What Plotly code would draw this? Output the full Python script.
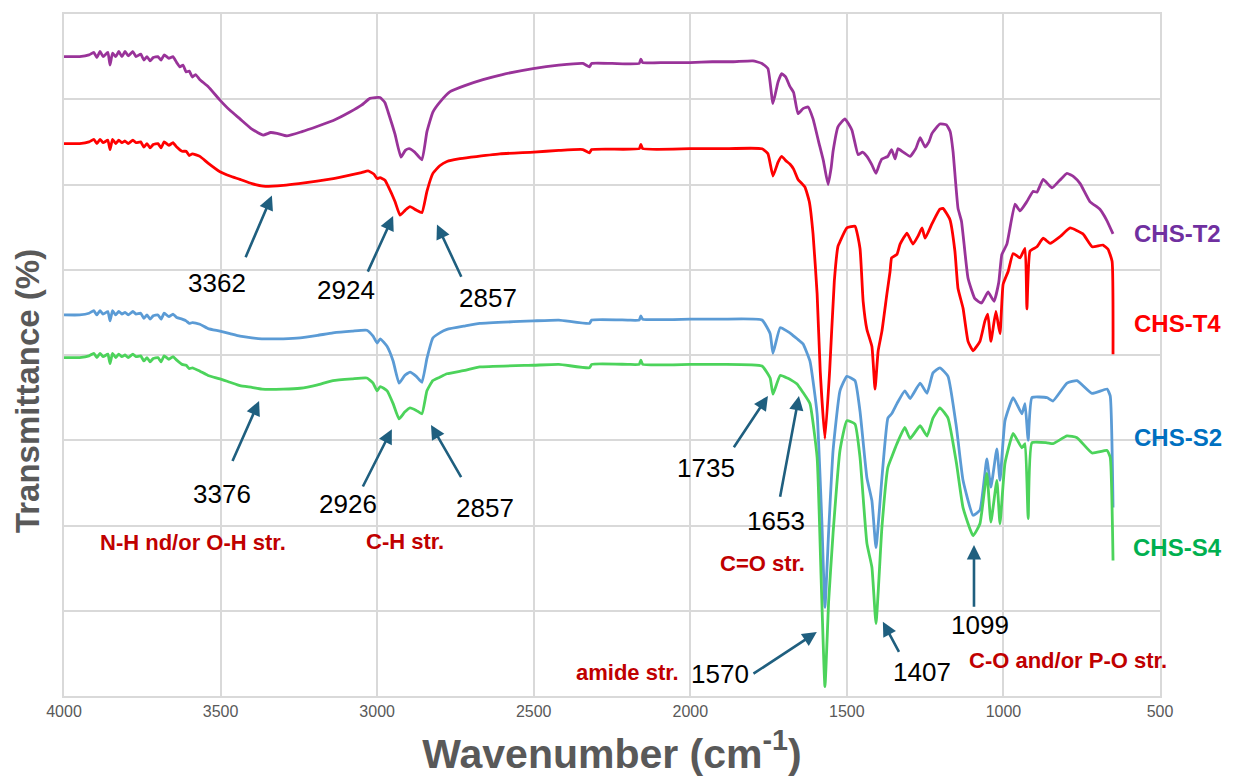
import plotly.graph_objects as go

# ---------------- data (wavenumber cm-1, transmittance in arbitrary % scale) ----------------
t2_wn = [4000, 3950, 3920, 3905, 3895, 3885, 3875, 3860, 3853, 3845, 3835, 3825, 3815, 3805, 3795, 3780,
         3770, 3755, 3745, 3735, 3725, 3715, 3700, 3690, 3680, 3665, 3652, 3640, 3630, 3620, 3610, 3600,
         3590, 3580, 3566, 3540, 3502, 3470, 3438, 3400, 3364, 3340, 3320, 3288, 3240, 3192, 3140, 3087,
         3050, 3023, 2991, 2975, 2965, 2943, 2924, 2910, 2898, 2880, 2857, 2841, 2822, 2799, 2767, 2720,
         2662, 2600, 2502, 2420, 2343, 2322, 2315, 2250, 2163, 2158, 2152, 2080, 2001, 1930, 1863, 1800, 1771,
         1752, 1736, 1720, 1708, 1695, 1682, 1670, 1656, 1640, 1624, 1608, 1590, 1575, 1560, 1550, 1544,
         1528, 1506, 1484, 1464, 1450, 1436, 1420, 1407, 1395, 1388, 1369, 1357, 1346, 1337, 1320, 1298,
         1280, 1266, 1250, 1238, 1228, 1203, 1182, 1170, 1161, 1145, 1134, 1113, 1091, 1070, 1049, 1030,
         1015, 1005, 989, 963, 947, 925, 905, 893, 873, 845, 820, 797, 775, 755, 724, 692, 670, 650]
t2_tr = [75.0, 75.0, 75.2, 75.5, 74.9, 75.6, 75.0, 75.5, 74.0, 75.4, 75.0, 75.6, 75.0, 75.6, 75.1, 75.6,
         75.0, 75.3, 74.6, 75.0, 74.5, 74.9, 75.0, 74.6, 75.2, 74.8, 75.0, 74.3, 73.8, 74.0, 73.2, 73.3,
         72.6, 72.9, 72.3, 71.5, 69.9, 68.7, 67.7, 66.5, 65.8, 66.1, 66.0, 65.7, 66.2, 66.8, 67.5, 68.5,
         69.3, 70.1, 70.2, 69.6, 68.5, 65.9, 63.2, 64.0, 64.2, 63.8, 62.9, 66.2, 68.5, 69.7, 70.9, 71.6,
         72.3, 72.9, 73.6, 74.0, 74.2, 73.8, 74.2, 74.2, 74.2, 74.7, 74.3, 74.3, 74.3, 74.4, 74.4, 74.5, 74.2,
         73.6, 69.5, 72.0, 73.0, 72.6, 71.5, 70.8, 68.3, 68.9, 69.1, 67.7, 65.0, 62.8, 60.0, 62.0, 63.9,
         66.8, 67.7, 66.4, 63.5, 63.8, 63.3, 62.3, 61.3, 62.5, 63.0, 63.3, 64.1, 63.0, 64.2, 63.8, 63.3,
         64.2, 65.5, 64.4, 65.0, 66.0, 67.1, 67.0, 66.2, 63.9, 57.2, 55.7, 49.0, 46.6, 46.1, 47.4, 46.3,
         48.5, 51.8, 53.0, 57.7, 56.9, 58.0, 59.2, 59.1, 60.6, 59.6, 60.5, 61.3, 60.9, 60.1, 58.0, 57.1,
         55.8, 54.2]

t4_wn = [4000, 3950, 3920, 3905, 3895, 3885, 3875, 3860, 3853, 3845, 3835, 3825, 3815, 3805, 3795, 3780,
         3770, 3755, 3745, 3735, 3725, 3715, 3700, 3690, 3680, 3665, 3652, 3640, 3623, 3610, 3600, 3590,
         3566, 3540, 3502, 3470, 3438, 3400, 3364, 3300, 3250, 3192, 3140, 3087, 3050, 3029, 3010, 3000,
         2991, 2975, 2965, 2943, 2927, 2910, 2895, 2875, 2857, 2841, 2822, 2800, 2777, 2740, 2700, 2608,
         2500, 2420, 2343, 2322, 2315, 2163, 2158, 2152, 2001, 1900, 1771, 1752, 1736, 1720, 1708, 1695, 1682,
         1670, 1656, 1634, 1620, 1608, 1595, 1585, 1570, 1555, 1540, 1528, 1522, 1500, 1474, 1458, 1448,
         1436, 1420, 1410, 1400, 1388, 1372, 1362, 1357, 1340, 1330, 1308, 1289, 1272, 1260, 1250, 1228,
         1203, 1193, 1171, 1155, 1145, 1129, 1113, 1097, 1075, 1059, 1050, 1040, 1024, 1011, 1001, 985,
         969, 947, 931, 925, 915, 893, 873, 851, 819, 787, 746, 717, 682, 666, 653, 650]
t4_tr = [64.8, 64.8, 65.0, 65.3, 64.8, 65.3, 64.9, 65.2, 64.1, 65.3, 64.8, 65.2, 64.9, 65.1, 64.8, 65.2,
         64.9, 65.0, 64.4, 64.8, 64.3, 64.7, 64.8, 64.3, 65.0, 64.6, 64.9, 64.4, 63.9, 63.9, 63.4, 63.6,
         63.3, 62.5, 61.5, 61.0, 60.6, 60.1, 59.8, 59.9, 60.1, 60.4, 60.7, 61.1, 61.4, 61.6, 61.2, 60.7,
         60.8, 60.5, 59.8, 58.0, 56.4, 57.0, 57.4, 57.0, 56.7, 59.2, 61.3, 62.2, 62.7, 63.0, 63.2, 63.6,
         63.8, 64.0, 64.1, 63.7, 64.1, 64.2, 64.7, 64.2, 64.2, 64.2, 64.2, 63.6, 61.0, 62.6, 63.3, 62.8, 62.4,
         61.8, 60.6, 59.7, 58.0, 54.2, 47.2, 38.1, 30.2, 38.1, 48.7, 52.8, 53.3, 54.9, 55.1, 52.5, 46.3,
         43.0, 41.0, 36.0, 40.5, 42.8, 47.2, 49.8, 51.4, 51.8, 53.0, 54.3, 53.0, 54.0, 54.9, 53.7, 55.4,
         57.1, 57.2, 55.9, 52.2, 47.8, 45.5, 41.6, 40.5, 41.6, 44.0, 44.8, 41.6, 45.1, 42.5, 48.3, 49.8,
         51.9, 51.4, 52.5, 45.4, 52.2, 52.7, 53.7, 53.1, 53.9, 54.9, 54.2, 52.7, 52.9, 52.4, 51.0, 40.1]

s2_wn = [4000, 3950, 3920, 3905, 3895, 3885, 3875, 3860, 3853, 3845, 3835, 3825, 3815, 3805, 3795, 3780,
         3770, 3755, 3745, 3735, 3725, 3715, 3700, 3690, 3680, 3665, 3652, 3640, 3623, 3610, 3600, 3590,
         3566, 3540, 3502, 3470, 3438, 3400, 3368, 3300, 3246, 3190, 3141, 3080, 3033, 3013, 3000, 2990,
         2968, 2949, 2930, 2912, 2895, 2875, 2857, 2841, 2822, 2800, 2777, 2720, 2672, 2500, 2420, 2322,
         2315, 2200, 2163, 2158, 2152, 2000, 1900, 1771, 1745, 1736, 1713, 1691, 1675, 1659, 1640, 1618, 1595,
         1580, 1570, 1558, 1544, 1522, 1500, 1474, 1458, 1436, 1420, 1407, 1388, 1369, 1357, 1340, 1315,
         1298, 1266, 1244, 1225, 1203, 1177, 1150, 1129, 1097, 1075, 1053, 1040, 1021, 1011, 995, 969,
         941, 931, 921, 909, 861, 842, 797, 765, 717, 669, 659, 650]
s2_tr = [44.7, 44.7, 44.9, 45.2, 44.7, 45.2, 44.8, 45.1, 44.0, 45.2, 44.7, 45.1, 44.8, 45.0, 44.7, 45.1,
         44.8, 44.9, 44.3, 44.7, 44.2, 44.6, 44.7, 44.2, 44.9, 44.5, 44.8, 44.4, 44.2, 44.0, 43.7, 43.8,
         43.6, 43.1, 42.8, 42.5, 42.2, 42.0, 41.9, 41.9, 42.0, 42.3, 42.6, 42.8, 42.9, 42.2, 41.4, 41.9,
         41.0, 39.3, 36.7, 37.6, 38.0, 37.5, 36.8, 39.6, 42.0, 42.6, 43.0, 43.4, 43.7, 44.0, 44.1, 43.7,
         44.1, 44.1, 44.1, 44.6, 44.2, 44.2, 44.2, 44.1, 42.5, 40.2, 43.2, 42.8, 42.4, 41.9, 41.3, 39.3, 33.1,
         20.6, 10.4, 19.4, 28.8, 35.8, 37.5, 37.0, 33.4, 25.6, 22.9, 17.4, 25.6, 32.6, 33.1, 34.3, 35.8,
         34.9, 36.7, 35.5, 37.9, 38.5, 37.5, 31.5, 25.3, 21.2, 21.8, 27.8, 24.5, 29.0, 25.3, 32.3, 35.0,
         33.1, 34.3, 30.0, 35.0, 35.0, 34.6, 36.7, 37.0, 35.5, 36.0, 35.2, 22.1]

s4_wn = [4000, 3950, 3920, 3905, 3895, 3885, 3875, 3860, 3853, 3845, 3835, 3825, 3815, 3805, 3795, 3780,
         3770, 3755, 3745, 3735, 3725, 3715, 3700, 3690, 3680, 3665, 3652, 3640, 3623, 3610, 3600, 3590,
         3566, 3540, 3502, 3470, 3438, 3400, 3368, 3300, 3246, 3190, 3141, 3080, 3033, 3013, 3000, 2990,
         2968, 2949, 2930, 2912, 2895, 2875, 2857, 2841, 2822, 2800, 2777, 2720, 2672, 2500, 2420, 2322,
         2315, 2200, 2163, 2158, 2152, 2000, 1900, 1771, 1745, 1736, 1713, 1690, 1675, 1659, 1640, 1618, 1595,
         1582, 1570, 1558, 1544, 1522, 1500, 1474, 1458, 1436, 1420, 1407, 1388, 1369, 1357, 1340, 1315,
         1298, 1266, 1244, 1225, 1203, 1177, 1150, 1129, 1097, 1075, 1053, 1040, 1021, 1011, 995, 969,
         941, 931, 921, 909, 861, 842, 797, 765, 717, 669, 659, 650]
s4_tr = [39.7, 39.7, 39.9, 40.2, 39.7, 40.2, 39.8, 40.1, 39.0, 40.2, 39.7, 40.1, 39.8, 40.0, 39.7, 40.1,
         39.8, 39.9, 39.3, 39.7, 39.2, 39.6, 39.7, 39.2, 39.9, 39.5, 39.8, 39.4, 38.9, 38.8, 38.4, 38.5,
         38.1, 37.6, 37.2, 36.8, 36.4, 36.2, 36.0, 36.0, 36.1, 36.5, 37.0, 37.2, 37.3, 36.7, 35.8, 36.3,
         35.8, 34.3, 32.5, 33.3, 33.8, 33.5, 33.1, 35.8, 37.0, 37.4, 37.8, 38.2, 38.6, 38.8, 38.9, 38.5,
         38.9, 38.9, 38.9, 39.4, 38.9, 38.9, 38.9, 38.7, 37.3, 35.4, 37.6, 37.3, 37.0, 36.6, 35.6, 34.3, 28.0,
         13.6, 1.1, 11.2, 19.1, 28.8, 32.3, 31.9, 28.0, 17.9, 15.1, 8.5, 19.8, 26.8, 28.0, 29.6, 31.5,
         30.2, 31.7, 30.5, 32.6, 33.8, 32.6, 27.3, 22.1, 18.8, 20.2, 26.1, 20.4, 25.3, 20.2, 27.3, 30.8,
         29.1, 29.6, 20.8, 29.7, 29.7, 29.6, 30.5, 30.3, 28.5, 28.8, 28.0, 15.9]

series_names = ["CHS-T2", "CHS-T4", "CHS-S2", "CHS-S4"]
line_colors = ["#993399", "#FF0000", "#5B9BD5", "#4CD35B"]
label_colors = ["#7030A0", "#FF0000", "#0070C0", "#00B050"]
label_levels = [54.3, 43.7, 30.3, 17.4]

# peak annotations: (text, text_wn, text_T, tail_wn, tail_T, head_wn, head_T)
peak_labels = [
    ("3362", 3511, 48.4, 3422, 51.3, 3336, 58.7),
    ("2924", 3100, 47.6, 3032, 49.6, 2949, 56.3),
    ("2857", 2646, 46.7, 2729, 49.0, 2809, 55.3),
    ("3376", 3496, 23.7, 3464, 27.4, 3377, 34.6),
    ("2926", 3093, 22.5, 3048, 24.4, 2953, 31.3),
    ("2857", 2656, 22.0, 2729, 25.5, 2828, 31.8),
    ("1735", 1950, 26.8, 1864, 29.0, 1752, 35.2),
    ("1653", 1727, 20.5, 1714, 23.2, 1653, 35.2),
    ("1570", 1905, 2.6, 1803, 2.5, 1596, 7.5),
    ("1407", 1260, 2.8, 1331, 5.0, 1385, 8.7),
    ("1099", 1075, 8.3, 1094, 10.3, 1094, 17.7),
]
band_labels = [
    ("N-H nd/or O-H str.", 3588, 18.0),
    ("C-H str.", 2911, 18.1),
    ("C=O str.", 1768, 15.6),
    ("C-O and/or P-O str.", 794, 4.2),
    ("amide str.", 2199, 2.7),
]

x_ticks = [4000, 3500, 3000, 2500, 2000, 1500, 1000, 500]

FONT = "Liberation Sans, Arial, sans-serif"
ARROW = "#1F5F7F"

fig = go.Figure()
for wn, tr, name, col in zip([t2_wn, t4_wn, s2_wn, s4_wn], [t2_tr, t4_tr, s2_tr, s4_tr],
                             series_names, line_colors):
    fig.add_trace(go.Scatter(x=wn, y=tr, mode="lines", name=name,
                             line=dict(color=col, width=2.8, shape="spline", smoothing=0.4),
                             showlegend=False))

ann = []
for name, col, lvl in zip(series_names, label_colors, label_levels):
    ann.append(dict(x=1.0164, xref="paper", y=lvl, yref="y", text="<b>%s</b>" % name,
                    showarrow=False, font=dict(family=FONT, size=24, color=col),
                    xanchor="center", yanchor="middle"))
for txt, tx, ty, ax_, ay_, hx, hy in peak_labels:
    ann.append(dict(x=hx, y=hy, xref="x", yref="y", ax=ax_, ay=ay_, axref="x", ayref="y",
                    text="", showarrow=True, arrowhead=2, arrowsize=1.1, arrowwidth=2.6,
                    arrowcolor=ARROW, standoff=0, startstandoff=0))
    ann.append(dict(x=tx, y=ty, xref="x", yref="y", text=txt, showarrow=False,
                    font=dict(family=FONT, size=26, color="#000000"),
                    xanchor="center", yanchor="middle"))
for txt, tx, ty in band_labels:
    ann.append(dict(x=tx, y=ty, xref="x", yref="y", text="<b>%s</b>" % txt, showarrow=False,
                    font=dict(family=FONT, size=22, color="#C00000"),
                    xanchor="center", yanchor="middle"))
# y-axis title (placed as in the reference, slightly below the plot centre)
ann.append(dict(x=-0.0338, xref="paper", y=0.447, yref="paper", text="<b>Transmittance (%)</b>",
                textangle=-90, showarrow=False, xanchor="center", yanchor="middle",
                font=dict(family=FONT, size=33, color="#595959")))

fig.update_layout(
    width=1226, height=770,
    margin=dict(l=56, r=74, t=4, b=82),
    paper_bgcolor="white", plot_bgcolor="white",
    annotations=ann,
    font=dict(family=FONT),
    xaxis=dict(range=[4000, 500], tickvals=x_ticks, ticktext=[str(v) for v in x_ticks],
               showgrid=True, gridcolor="#D9D9D9", gridwidth=1.5,
               showline=True, linecolor="#D9D9D9", linewidth=1.5, mirror=True,
               ticks="", tickfont=dict(family=FONT, size=16, color="#595959"),
               title=dict(text="<b>Wavenumber (cm<sup>-1</sup>)</b>", standoff=20,
                          font=dict(family=FONT, size=41, color="#595959")),
               zeroline=False),
    yaxis=dict(range=[0, 80], dtick=10, showticklabels=False,
               showgrid=True, gridcolor="#D9D9D9", gridwidth=1.5,
               showline=True, linecolor="#D9D9D9", linewidth=1.5, mirror=True,
               ticks="", zeroline=False),
)

fig.write_html("out.html")
